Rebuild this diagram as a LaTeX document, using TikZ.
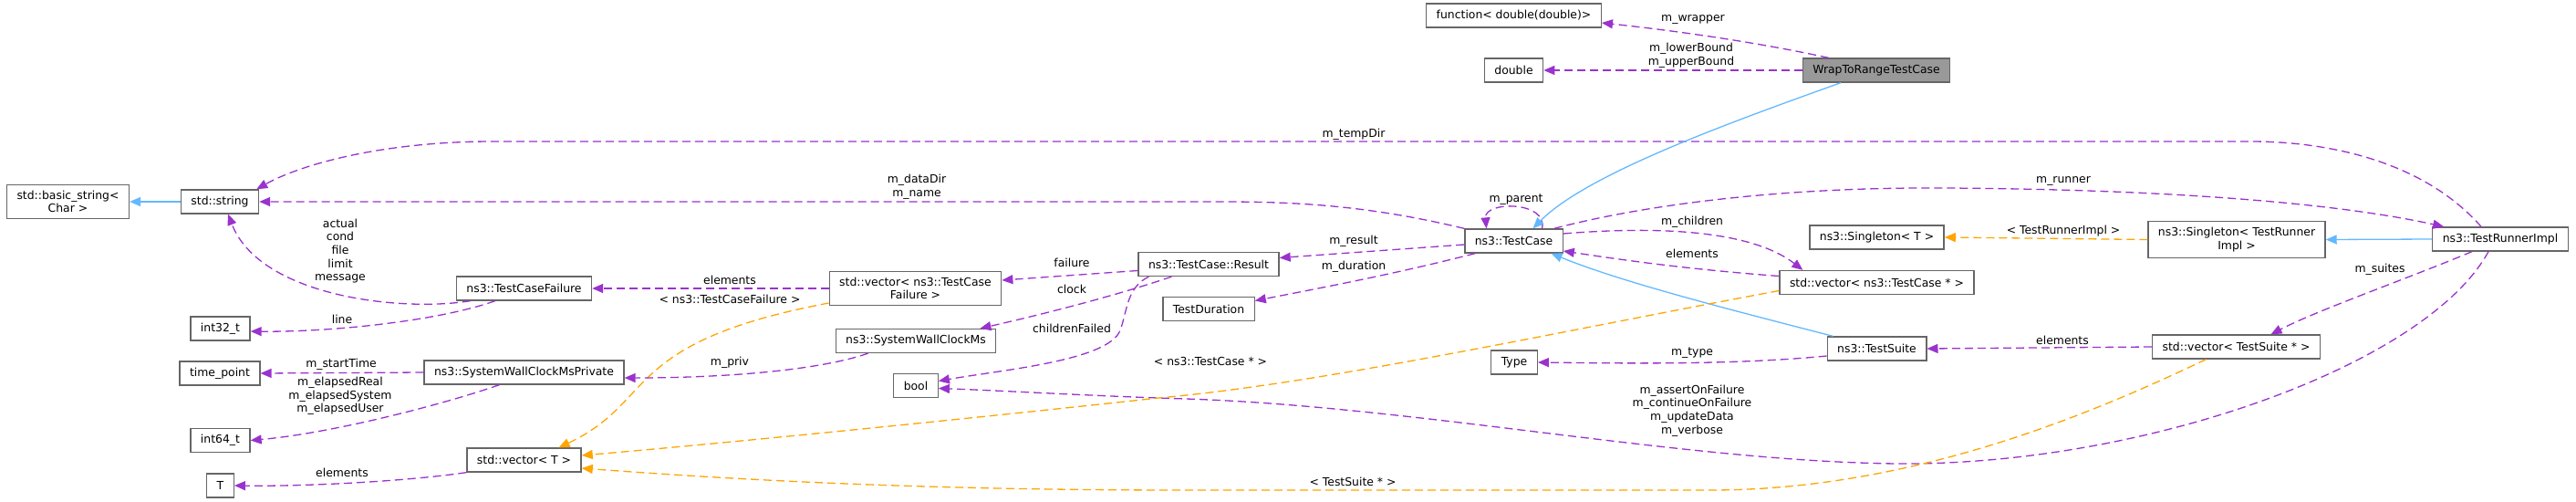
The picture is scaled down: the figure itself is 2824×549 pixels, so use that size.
\documentclass[tikz,border=0pt]{standalone}
\usepackage{fontspec}
\setmainfont{DejaVu Sans}
\usetikzlibrary{arrows.meta}
\definecolor{memcol}{HTML}{9A32CD}
\definecolor{tplcol}{HTML}{FFA500}
\definecolor{inhcol}{HTML}{63B8FF}
\definecolor{boxcol}{HTML}{666666}
\definecolor{selcol}{HTML}{999999}
\begin{document}
\begin{tikzpicture}[x=1pt,y=-1pt,line width=1.3pt,
  font=\fontsize{12.4}{14.7}\selectfont,
  cls/.style={draw=boxcol,align=center,inner xsep=11pt,inner ysep=6.5pt,minimum height=26pt},
  mem/.style={memcol,dash pattern=on 9pt off 5pt,-{Triangle[length=12pt,width=10pt]}},
  tpl/.style={tplcol,dash pattern=on 9pt off 5pt,-{Triangle[length=12pt,width=10pt]}},
  inh/.style={inhcol,-{Triangle[length=12pt,width=10pt]}},
  lbl/.style={align=center,inner sep=0pt}]
  \useasboundingbox (0,0) rectangle (2824,549);
  \node[cls](bstr) at (74.5,221) {std::basic\_string<\\Char >};
  \node[cls](str) at (241,221) {std::string};
  \node[cls](tcfail) at (574.5,316) {ns3::TestCaseFailure};
  \node[cls](ithree) at (241.5,360) {int32\_t};
  \node[cls](tpoint) at (241,409) {time\_point};
  \node[cls](clkpriv) at (574.5,408) {ns3::SystemWallClockMsPrivate};
  \node[cls](isix) at (241.5,482.5) {int64\_t};
  \node[cls](vect) at (574.5,504) {std::vector< T >};
  \node[cls](tee) at (241.5,532) {T};
  \node[cls](vfail) at (1003.5,316) {std::vector< ns3::TestCase\\Failure >};
  \node[cls](clock) at (1004,373.5) {ns3::SystemWallClockMs};
  \node[cls](bool) at (1004,422.5) {bool};
  \node[cls](result) at (1325,289.5) {ns3::TestCase::Result};
  \node[cls](dur) at (1325,338.5) {TestDuration};
  \node[cls](tcase) at (1659.5,264) {ns3::TestCase};
  \node[cls](type) at (1660,397) {Type};
  \node[cls](func) at (1659.5,17) {function< double(double)>};
  \node[cls](dbl) at (1659.5,77) {double};
  \node[cls,fill=selcol](wrap) at (2057,77) {WrapToRangeTestCase};
  \node[cls](single) at (2057.5,260) {ns3::Singleton< T >};
  \node[cls](vcase) at (2057.5,309.5) {std::vector< ns3::TestCase * >};
  \node[cls](suite) at (2057.5,382) {ns3::TestSuite};
  \node[cls](srunner) at (2452,262.5) {ns3::Singleton< TestRunner\\Impl >};
  \node[cls](vsuite) at (2451.5,380) {std::vector< TestSuite * >};
  \node[cls](runner) at (2741,262) {ns3::TestRunnerImpl};
  \draw[inh] (str)--(bstr);
  \draw[mem] ([xshift=-21pt]runner.north) .. controls (2660,180) and (2560,155) .. (2467,155) -- (540,155) .. controls (420,155) and (330,180) .. ([xshift=-3pt]str.north east);
  \draw[mem] (tcase.north west) .. controls (1500,225) and (1420,221) .. (1339,221) -- (str.east);
  \draw[mem] ([xshift=16pt]tcfail.south west) .. controls (440,342) and (285,325) .. ([xshift=9pt]str.south);
  \draw[mem] ([xshift=43pt]tcfail.south west) .. controls (480,352) and (360,364) .. ([yshift=-3pt]ithree.east);
  \draw[mem] (clkpriv.west)--(tpoint.east);
  \draw[mem] ([xshift=83pt]clkpriv.south west) .. controls (480,445) and (360,475) .. (isix.east);
  \draw[mem] (vect.south west) .. controls (440,528) and (330,533) .. (tee.east);
  \draw[mem] (vfail.west)--(tcfail.east);
  \draw[tpl] ([yshift=-16pt]vfail.west) .. controls (680,375) and (720,440) .. ([xshift=38pt]vect.north);
  \draw[mem] ([xshift=36pt]clock.south west) .. controls (900,405) and (800,414) .. ([yshift=-6pt]clkpriv.east);
  \draw[mem] ([yshift=-7pt]result.west)--([yshift=9pt]vfail.east);
  \draw[mem] ([xshift=37pt]result.south west) .. controls (1220,325) and (1140,345) .. ([xshift=-18pt]clock.north east);
  \draw[mem] ([xshift=12pt]result.south west) .. controls (1235,315) and (1236,340) .. (1228,362) .. controls (1215,395) and (1100,405) .. ([yshift=5pt]bool.east);
  \draw[mem] ([xshift=-13pt]runner.south) .. controls (2660,400) and (2350,510) .. (2081,508) .. controls (1850,506) and (1550,445) .. (1300,437) .. controls (1200,434) and (1100,428) .. ([yshift=-3pt]bool.east);
  \draw[mem] ([yshift=-4pt]tcase.west)--([yshift=7pt]result.east);
  \draw[mem] ([xshift=12pt]tcase.south west) .. controls (1530,300) and (1450,315) .. ([yshift=9pt]dur.east);
  \draw[mem] ([xshift=31pt]tcase.north) .. controls (1697,220) and (1627,220) .. ([xshift=-30pt]tcase.north);
  \draw[inh] ([xshift=-39pt]wrap.south) .. controls (1900,133) and (1740,190) .. ([xshift=21pt]tcase.north);
  \draw[inh] ([xshift=7pt]suite.north west) .. controls (1900,340) and (1780,310) .. ([xshift=41pt]tcase.south);
  \draw[mem] ([xshift=-10pt]tcase.north east) .. controls (1800,225) and (1950,205) .. (2127,206) .. controls (2350,207) and (2550,220) .. ([xshift=13pt]runner.north west);
  \draw[mem] ([yshift=8pt]tcase.east) .. controls (1850,245) and (1930,260) .. ([xshift=26pt]vcase.north west);
  \draw[mem] ([yshift=7pt]vcase.west) .. controls (1850,295) and (1780,285) .. ([yshift=-11pt]tcase.east);
  \draw[tpl] ([yshift=-9pt]vcase.west) .. controls (1700,365) and (1450,420) .. (1270,436) .. controls (1050,460) and (800,485) .. ([yshift=5pt]vect.east);
  \draw[tpl] ([xshift=-33pt]vsuite.south) .. controls (2300,450) and (2100,537) .. (1875,537) -- (1300,537) .. controls (1000,537) and (800,525) .. ([yshift=-9pt]vect.east);
  \draw[inh] (runner.west)--(srunner.east);
  \draw[tpl] (srunner.west)--(single.east);
  \draw[mem] ([xshift=-31pt]runner.south) .. controls (2640,305) and (2540,340) .. ([xshift=38pt]vsuite.north);
  \draw[mem] (vsuite.west)--(suite.east);
  \draw[mem] ([yshift=-8pt]suite.west) .. controls (1900,400) and (1780,398) .. (type.east);
  \draw[mem] ([xshift=29pt]wrap.north west) .. controls (1920,45) and (1830,33) .. ([yshift=-8pt]func.east);
  \draw[mem] (wrap.west)--(dbl.east);
  \node[lbl](lwrapper) at (1856,21) {m\_wrapper};
  \node[lbl](lbounds) at (1854,61) {m\_lowerBound\\m\_upperBound};
  \node[lbl](ltemp) at (1484,147) {m\_tempDir};
  \node[lbl](ldata) at (1005,205) {m\_dataDir\\m\_name};
  \node[lbl](lparent) at (1662,219) {m\_parent};
  \node[lbl](lresult) at (1484,264) {m\_result};
  \node[lbl](ldur) at (1484,292) {m\_duration};
  \node[lbl](lchild) at (1855,243) {m\_children};
  \node[lbl](lelcase) at (1855,278) {elements};
  \node[lbl](lrunner) at (2262,198) {m\_runner};
  \node[lbl](lsingle) at (2262,253) {< TestRunnerImpl >};
  \node[lbl](lsuites) at (2609,295) {m\_suites};
  \node[lbl](lelsuite) at (2261,373) {elements};
  \node[lbl](ltype) at (1855,387) {m\_type};
  \node[lbl](lvcase) at (1327,396) {< ns3::TestCase * >};
  \node[lbl](lflags) at (1855,450) {m\_assertOnFailure\\m\_continueOnFailure\\m\_updateData\\m\_verbose};
  \node[lbl](lvsuite) at (1483,528) {< TestSuite * >};
  \node[lbl](lfail) at (1175,288) {failure};
  \node[lbl](lclock) at (1175,317) {clock};
  \node[lbl](lchfail) at (1175,360) {childrenFailed};
  \node[lbl](lelfail) at (800,307) {elements};
  \node[lbl](lvfail) at (800,328) {< ns3::TestCaseFailure >};
  \node[lbl](lpriv) at (800,397) {m\_priv};
  \node[lbl](lstrs) at (373,275) {actual\\cond\\file\\limit\\message};
  \node[lbl](lline) at (375,350) {line};
  \node[lbl](lstart) at (374,399) {m\_startTime};
  \node[lbl](lelapsed) at (373,434) {m\_elapsedReal\\m\_elapsedSystem\\m\_elapsedUser};
  \node[lbl](leltee) at (375,518) {elements};
\end{tikzpicture}
\end{document}
